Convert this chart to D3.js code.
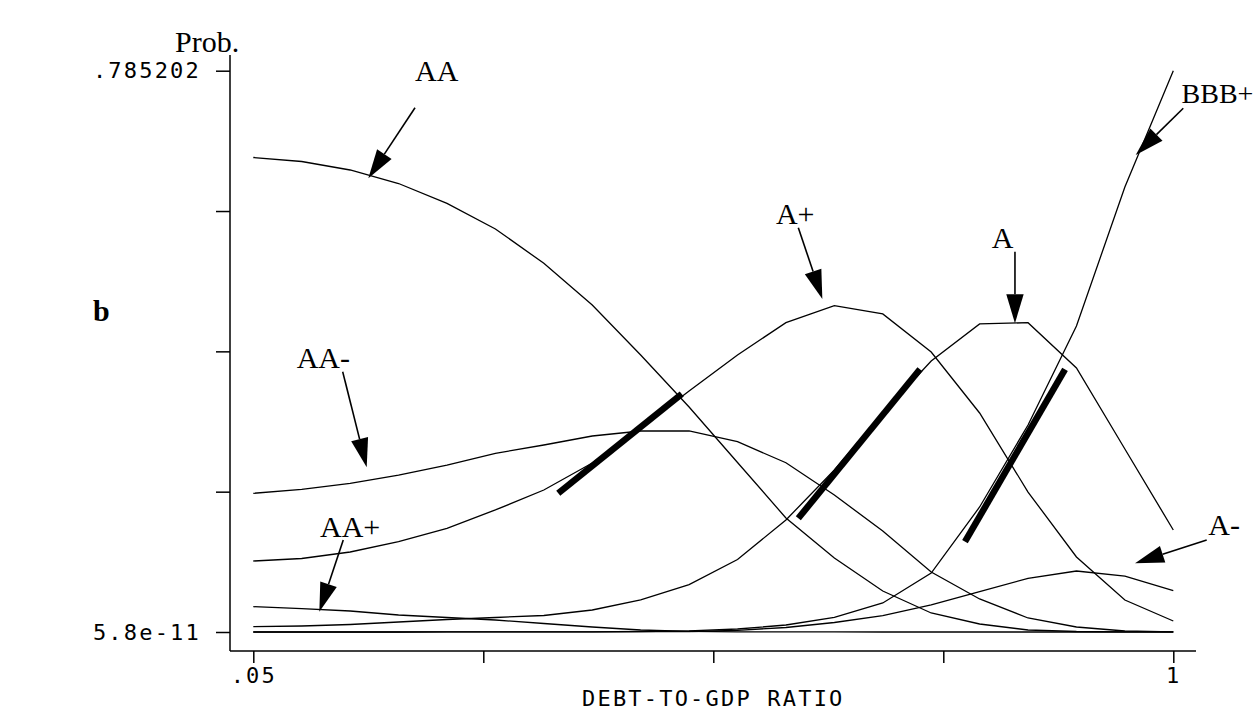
<!DOCTYPE html>
<html lang="en">
<head>
    <meta charset="UTF-8" />
    <script src="https://d3js.org/d3.v7.min.js"></script>
    <title>Rating probabilities by debt-to-GDP ratio</title>
    <style>
        body { margin: 0; background: #fff; }
        svg { display: block; }
        .tick text, .axis-title { font-family: "DejaVu Sans Mono", monospace; font-size: 22px; letter-spacing: 2.2px; fill: #000; }
        .serif { font-family: "Liberation Serif", "Times New Roman", serif; fill: #000; }
    </style>
</head>
<body>
<svg width="1257" height="720"></svg>
<script>
    // x grid of the fitted curves
    const ratio = [0.05, 0.10, 0.15, 0.20, 0.25, 0.30, 0.35, 0.40, 0.45, 0.50,
                   0.55, 0.60, 0.65, 0.70, 0.75, 0.80, 0.85, 0.90, 0.95, 1.00]

    // predicted probability of each rating
    const probAAplus  = [0.0354, 0.0326, 0.0294, 0.0238, 0.0203, 0.0168, 0.0119, 0.0070, 0.0028, 0.0010,
                         0.0003, 0.0001, 0.00005, 0.00002, 0.00001, 0.000005, 0.000002, 0.000001, 0.0000005, 0.0000002]
    const probAA      = [0.6638, 0.6582, 0.6463, 0.6274, 0.5997, 0.5638, 0.5158, 0.4574, 0.3875, 0.3148,
                         0.2371, 0.1595, 0.1035, 0.0574, 0.0266, 0.0112, 0.0028, 0.0007, 0.0002, 0.0001]
    const probAAminus = [0.1940, 0.1996, 0.2080, 0.2196, 0.2336, 0.2500, 0.2616, 0.2742, 0.2812, 0.2812,
                         0.2662, 0.2368, 0.1916, 0.1413, 0.0839, 0.0462, 0.0196, 0.0070, 0.0014, 0.0003]
    const probAplus   = [0.0993, 0.1028, 0.1119, 0.1263, 0.1451, 0.1707, 0.1986, 0.2364, 0.2854, 0.3371,
                         0.3875, 0.4327, 0.4565, 0.4449, 0.3917, 0.3064, 0.1958, 0.1049, 0.0448, 0.0154]
    const probA       = [0.0074, 0.0084, 0.0105, 0.0140, 0.0175, 0.0203, 0.0231, 0.0308, 0.0448, 0.0664,
                         0.1014, 0.1567, 0.2266, 0.3064, 0.3791, 0.4309, 0.4327, 0.3693, 0.2560, 0.1427]
    const probAminus  = [0.00001, 0.00001, 0.00002, 0.00003, 0.00005, 0.00007, 0.0001, 0.0002, 0.0004, 0.0007,
                         0.0024, 0.0063, 0.0133, 0.0228, 0.0378, 0.0564, 0.0751, 0.0853, 0.0783, 0.0578]
    const probBBBplus = [0.00001, 0.00001, 0.00002, 0.00003, 0.00004, 0.00006, 0.0001, 0.0002, 0.0007, 0.0017,
                         0.0042, 0.0098, 0.0203, 0.0406, 0.0825, 0.1749, 0.2896, 0.4281, 0.6225, 0.785202]

    // axis ticks
    const xTicks = [0.05, 0.2875, 0.525, 0.7625, 1]
    const xTickLabels = [".05", "", "", "", "1"]
    const yTicks = [5.8e-11, 0.196301, 0.392601, 0.588902, 0.785202]
    const yTickLabels = ["5.8e-11", "", "", "", ".785202"]

    // thick segments: [x1, p1, x2, p2]
    const slopes = [
        [0.3649, 0.1940, 0.4924, 0.3329],
        [0.6128, 0.1591, 0.7384, 0.3675],
        [0.7849, 0.1263, 0.8882, 0.3675]
    ]

    // labels: name, text position, arrow start, arrow tip (data units)
    const labelNames = ["AA", "A+", "A", "BBB+", "AA-", "AA+", "A-"]
    const labelPos = [[0.2170, 0.7712], [0.5897, 0.5707], [0.8125, 0.5368], [1.0085, 0.7396],
                      [0.0948, 0.3689], [0.1189, 0.1333], [1.0361, 0.1357]]
    const arrowFrom = [[0.2170, 0.7334], [0.6128, 0.5656], [0.8365, 0.5320], [1.0103, 0.7326],
                       [0.1423, 0.3641], [0.1429, 0.1287], [1.0345, 0.1287]]
    const arrowTo = [[0.1688, 0.6347], [0.6376, 0.4658], [0.8365, 0.4318], [0.9612, 0.6673],
                     [0.1671, 0.2304], [0.1182, 0.0284], [0.9605, 0.0961]]

    const series = [probAAplus, probAA, probAAminus, probAplus, probA, probAminus, probBBBplus]

    const x = d3.scaleLinear().domain([0.05, 1]).range([253.3, 1173.3])
    const y = d3.scaleLinear().domain([5.8e-11, 0.785202]).range([632, 70.7])

    const svg = d3.select("svg")

    // axes
    const axisLeftX = 230, axisBottomY = 651
    const yAxis = g => g.attr("transform", `translate(${axisLeftX},0)`)
        .call(d3.axisLeft(y).tickValues(yTicks).tickFormat((d, i) => yTickLabels[i]).tickSize(14).tickPadding(15))
        .call(g => g.select(".domain").remove())
    const xAxis = g => g.attr("transform", `translate(0,${axisBottomY})`)
        .call(d3.axisBottom(x).tickValues(xTicks).tickFormat((d, i) => xTickLabels[i]).tickSize(12).tickPadding(4))
        .call(g => g.select(".domain").remove())

    svg.append("g").call(yAxis)
    svg.append("g").call(xAxis)
    svg.selectAll(".tick line").attr("stroke", "#000").attr("stroke-width", 1.5)
    svg.selectAll(".tick text").attr("font-size", null)

    svg.append("line").attr("x1", axisLeftX).attr("x2", axisLeftX).attr("y1", 55).attr("y2", axisBottomY)
        .attr("stroke", "#000").attr("stroke-width", 1.5)
    svg.append("line").attr("x1", axisLeftX).attr("x2", 1196).attr("y1", axisBottomY).attr("y2", axisBottomY)
        .attr("stroke", "#000").attr("stroke-width", 1.5)

    svg.append("text").attr("class", "axis-title").attr("x", x(0.525)).attr("y", 706)
        .attr("text-anchor", "middle").text("DEBT-TO-GDP RATIO")
    svg.append("text").attr("class", "serif").attr("x", 175).attr("y", 52).attr("font-size", 30).text("Prob.")
    svg.append("text").attr("class", "serif").attr("x", 93).attr("y", 321).attr("font-size", 30)
        .attr("font-weight", "bold").text("b")

    // curves
    const line = d3.line().x((d, i) => x(ratio[i])).y(d => y(d))
    svg.append("g").attr("fill", "none").attr("stroke", "#000").attr("stroke-width", 1.3)
        .selectAll("path").data(series).enter().append("path").attr("d", d => line(d))

    // thick slope segments
    svg.append("g").attr("stroke", "#000").attr("stroke-width", 6.5)
        .selectAll("line").data(slopes).enter().append("line")
        .attr("x1", d => x(d[0])).attr("y1", d => y(d[1]))
        .attr("x2", d => x(d[2])).attr("y2", d => y(d[3]))

    // labels with arrows
    const headLen = 29, headHalf = 8.7
    labelNames.forEach((name, i) => {
        const sx = x(arrowFrom[i][0]), sy = y(arrowFrom[i][1])
        const tx = x(arrowTo[i][0]), ty = y(arrowTo[i][1])
        const len = Math.hypot(tx - sx, ty - sy)
        const ux = (tx - sx) / len, uy = (ty - sy) / len
        const bx = tx - ux * headLen, by = ty - uy * headLen
        svg.append("line").attr("x1", sx).attr("y1", sy).attr("x2", bx).attr("y2", by)
            .attr("stroke", "#000").attr("stroke-width", 1.6)
        svg.append("path").attr("fill", "#000")
            .attr("d", `M${tx},${ty}L${bx - uy * headHalf},${by + ux * headHalf}L${bx + uy * headHalf},${by - ux * headHalf}Z`)
        svg.append("text").attr("class", "serif").attr("font-size", name === "BBB+" ? 28 : 30)
            .attr("x", x(labelPos[i][0])).attr("y", y(labelPos[i][1])).text(name)
    })
</script>
</body>
</html>
